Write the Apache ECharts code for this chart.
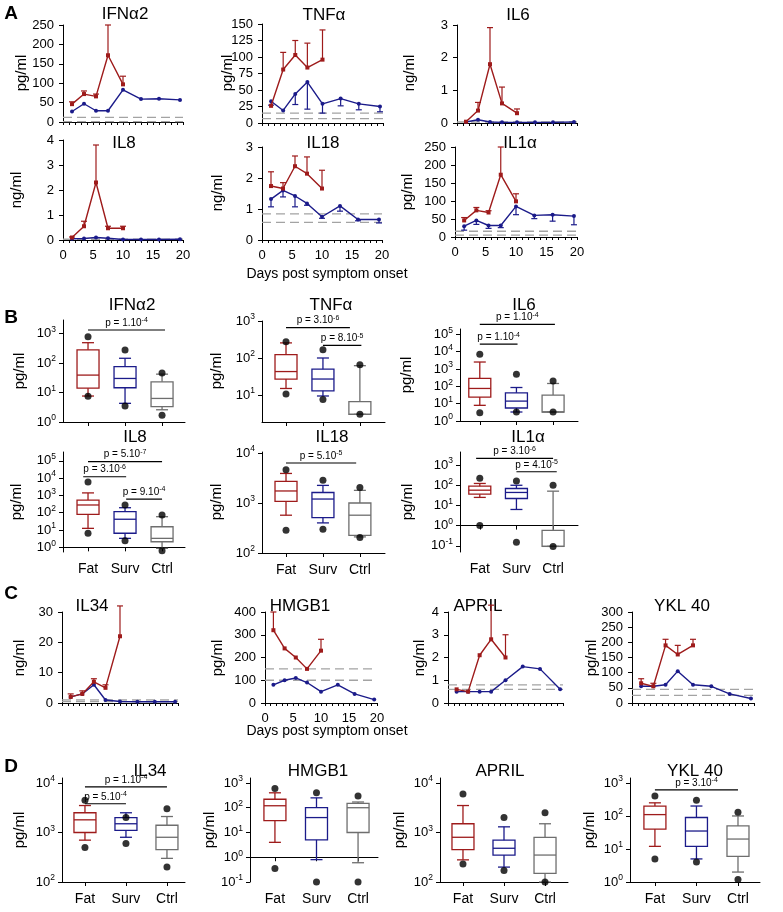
<!DOCTYPE html>
<html><head><meta charset="utf-8">
<script src="https://cdn.jsdelivr.net/npm/echarts@6/dist/echarts.min.js"></script>
<style>html,body{margin:0;padding:0;background:#fff}#c{width:783px;height:912px}</style>
</head><body><div id="c"></div><script>
const FONT='"Liberation Sans", Arial, sans-serif';
const FAT='#9e1b1b', SURV='#1b1b8a', CTRL='#6e6e6e';

// ---------- time-course data (panels A, C) ----------
const daysFat=[1.5,3.5,5.5,7.5,10];
const daysSurv=[1.5,3.5,5.5,7.5,10,13,16,19.5];
const xTickLabels=[0,5,10,15,20];

const aIFNa2Fat=[46,72,66,172,97], aIFNa2FatErr=[52,80,72,250,118];
const aIFNa2Surv=[27,47,29,29,83,59,60,57], aIFNa2Ref=[12,1];
const aTNFaFat=[26,81,103,84,96], aTNFaFatErr=[null,107,125,121,141];
const aTNFaSurv=[33,19,44,62,29,37,29,25], aTNFaSurvErr=[27,null,28,21,15,26,20,17], aTNFaRef=[15,6.5];
const aIL6Fat=[0.04,0.38,1.8,0.6,0.3], aIL6FatErr=[null,0.63,2.92,1.1,0.43];
const aIL6Surv=[0.03,0.1,0.03,0.02,0.02,0.02,0.02,0.03], aIL6Ref=[0.03];
const aIL8Fat=[0.1,0.55,2.3,0.47,0.47], aIL8FatErr=[0.12,0.75,3.8,0.55,0.55];
const aIL8Surv=[0.05,0.06,0.1,0.07,0.02,0.02,0.02,0.03], aIL8Ref=[0.03];
const aIL18Fat=[1.74,1.66,2.38,2.14,1.66], aIL18FatErr=[2.2,1.85,2.71,2.68,2.25];
const aIL18Surv=[1.32,1.6,1.42,1.18,0.75,1.10,0.66,0.66], aIL18SurvErr=[1.07,1.39,1.07,1.12,0.70,0.93,0.62,0.55], aIL18Ref=[0.84,0.57];
const aIL1aFat=[46,74,68,173,99], aIL1aFatErr=[54,82,73,250,120];
const aIL1aSurv=[30,46,32,32,85,60,62,58], aIL1aSurvErr=[19,35,24,26,62,51,44,34], aIL1aRef=[16,5];

const cIL34Fat=[2,3,7,5,22], cIL34FatErr=[3,4,8,6,32];
const cIL34Surv=[2,3,6,1,0.5,0.4,0.4,0.4], cIL34Ref=[1,0.5];
const cHMGB1Fat=[320,240,200,150,230], cHMGB1FatErr=[400,null,null,null,280];
const cHMGB1Surv=[80,100,110,90,50,80,40,15], cHMGB1Ref=[150,100];
const cAPRILFat=[0.6,0.5,2.1,2.8,2.0], cAPRILFatErr=[null,null,null,4.3,3.0];
const cAPRILSurv=[0.5,0.5,0.5,0.5,1.0,1.6,1.5,0.6], cAPRILRef=[0.8,0.6];
const cYKLFat=[65,55,190,160,190], cYKLFatErr=[80,65,210,190,210];
const cYKLSurv=[55,55,60,105,60,55,30,15], cYKLRef=[45,25];

// ---------- box-plot data (panels B, D): [min, Q1, median, Q3, max] for Fat, Surv, Ctrl ----------
const groups=['Fat','Surv','Ctrl'];
const bIFNa2Box=[[7.6,14,39,280,490],[4.3,14.5,30,75,145],[2.6,3.3,6.3,23,42]];
const bIFNa2Out=[[780,7.5],[275,3.5],[46,1.7]];
const bTNFaBox=[[15,27,43,123,256],[9.4,13,27,50,100],[3.0,3.0,3.0,6.6,62]];
const bTNFaOut=[[275,10.7],[168,7.6],[66,3.0]];
const bIL6Box=[[8,24,75,282,2500],[3.3,5.6,14,42,85],[3.3,3.3,3.3,31,145]];
const bIL6Out=[[7000,3.0],[500,3.3],[200,3.3]];
const bIL8Box=[[12.5,81,280,540,1400],[3.3,6.5,42,115,195],[0.87,2.1,3.3,15.5,59]];
const bIL8Out=[[6000,6.5],[280,2.4],[74,0.63]];
const bIL18Box=[[570,1080,1740,2700,3900],[400,510,1200,1620,2250],[210,225,570,1000,1790]];
const bIL18Out=[[4650,285],[2850,300],[2040,205]];
const bIL1aBox=[[25,36,57,90,123],[6.3,22,44,69,100],[0.093,0.093,0.093,0.58,51]];
const bIL1aOut=[[220,1.0],[165,0.15],[100,0.093]];

const dIL34Box=[[700,1000,1800,2500,3500],[800,1100,1500,2000,2500],[300,450,800,1400,2100]];
const dIL34Out=[[500,4500],[600,2000],[200,3000]];
const dHMGB1Box=[[4,30,120,220,400],[0.8,5,40,100,250],[0.6,10,100,150,170]];
const dHMGB1Out=[[0.35,600],[0.1,400],[0.1,300]];
const dAPRILBox=[[280,450,800,1500,3500],[200,350,480,700,1300],[100,150,350,800,1500]];
const dAPRILOut=[[230,6000],[170,2000],[100,2500]];
const dYKLBox=[[12,40,110,200,250],[5,12,35,90,200],[2,6,20,50,100]];
const dYKLOut=[[5,400],[4,300],[1.2,130]];

// significance brackets: [fromGroup, toGroup, log10 height, text, exponent]
const bIFNa2P=[[1,3.08,3.12,'p = 1.10','-4']];
const bTNFaP=[[1,2.73,2.82,'p = 3.10','-6'],[2,3.04,2.34,'p = 8.10','-5']];
const bIL6P=[[1,3.05,5.57,'p = 1.10','-4'],[1,2.03,4.43,'p = 1.10','-4']];
const bIL8P=[[1,3,4.95,'p = 5.10','-7'],[0.87,2.03,4.08,'p = 3.10','-6'],[2.03,3,2.79,'p = 9.10','-4']];
const bIL18P=[[1,2.9,3.8,'p = 5.10','-5']];
const bIL1aP=[[0.9,3,3.33,'p = 3.10','-6'],[2,3.1,2.67,'p = 4.10','-5']];
const dIL34P=[[1,3,3.92,'p = 1.10','-4'],[1,2,3.58,'p = 5.10','-4']];
const dYKLP=[[1,3,2.79,'p = 3.10','-4']];

// ---------- builders ----------
const grids=[], xAxes=[], yAxes=[], series=[], graphics=[];
const axisLine={show:true,lineStyle:{color:'#000',width:1}};
const tickOut={show:true,inside:false,length:4,lineStyle:{color:'#000',width:1}};
const lbl={color:'#000',fontFamily:FONT,fontSize:13,margin:9};

function addGrid(l,t,w,h){grids.push({left:l,top:t,width:w,height:h,containLabel:false});return grids.length-1;}

function errSeries(ai,days,vals,errs,color){
  if(!errs) return;
  const data=[];
  days.forEach((d,i)=>{if(errs[i]!=null) data.push([d,vals[i],errs[i]]);});
  series.push({type:'custom',xAxisIndex:ai,yAxisIndex:ai,data,encode:{x:0,y:[1,2]},silent:true,z:4,
    renderItem:(p,api)=>{
      const a=api.coord([api.value(0),api.value(1)]), b=api.coord([api.value(0),api.value(2)]);
      return {type:'group',children:[
        {type:'line',shape:{x1:a[0],y1:a[1],x2:b[0],y2:b[1]},style:{stroke:color,lineWidth:1.2}},
        {type:'line',shape:{x1:b[0]-3,y1:b[1],x2:b[0]+3,y2:b[1]},style:{stroke:color,lineWidth:1.2}}]};
    }});
}

function linePanel(o){
  const g=addGrid(o.left,o.top,o.width,o.height);
  xAxes.push({gridIndex:g,type:'value',min:0,max:20,interval:5,axisLine,
    axisTick:{...tickOut,length:3},minorTick:{show:true,splitNumber:5,length:3,lineStyle:{color:'#000'}},
    splitLine:{show:false},minorSplitLine:{show:false},
    axisLabel:{...lbl,show:!!o.xLabels,customValues:xTickLabels}});
  yAxes.push({gridIndex:g,type:'value',min:0,max:o.ymax,interval:o.yint,axisLine,axisTick:tickOut,
    splitLine:{show:false},axisLabel:lbl});
  const ai=xAxes.length-1;
  o.ref.forEach(v=>series.push({type:'line',xAxisIndex:ai,yAxisIndex:ai,data:[[0,v],[20,v]],symbol:'none',silent:true,z:1,
    lineStyle:{color:'#a3a3a3',width:1.3,type:[9,5]}}));
  series.push({type:'line',xAxisIndex:ai,yAxisIndex:ai,data:daysSurv.map((d,i)=>[d,o.surv[i]]),symbol:'circle',symbolSize:4,
    itemStyle:{color:SURV},lineStyle:{color:SURV,width:1.4},z:3,silent:true});
  errSeries(ai,daysSurv,o.surv,o.survErr,SURV);
  series.push({type:'line',xAxisIndex:ai,yAxisIndex:ai,data:daysFat.map((d,i)=>[d,o.fat[i]]),symbol:'rect',symbolSize:4,
    itemStyle:{color:FAT},lineStyle:{color:FAT,width:1.4},z:5,silent:true});
  errSeries(ai,daysFat,o.fat,o.fatErr,FAT);
}

const L=Math.log10;
function boxPanel(o){
  const g=addGrid(o.left,o.top,o.width,o.height);
  xAxes.push({gridIndex:g,type:'value',min:o.xmin,max:o.xmax,axisLine,
    axisTick:{...tickOut,customValues:[1,2,3]},splitLine:{show:false},
    axisLabel:{...lbl,fontSize:14,margin:10,show:!!o.xLabels,customValues:[1,2,3],formatter:v=>groups[Math.round(v)-1]}});
  yAxes.push({gridIndex:g,type:'value',min:o.ymin,max:o.ymax,axisLine,
    axisTick:{...tickOut,customValues:o.ticks},splitLine:{show:false},
    axisLabel:{...lbl,margin:7,customValues:o.ticks,formatter:v=>'{b|10}{s|'+Math.round(v)+'}',
      rich:{b:{fontSize:13,fontFamily:FONT,color:'#000'},s:{fontSize:8.5,fontFamily:FONT,color:'#000',padding:[0,0,8,0]}}}});
  const ai=xAxes.length-1;
  const colors=[FAT,SURV,CTRL];
  series.push({type:'custom',xAxisIndex:ai,yAxisIndex:ai,silent:true,z:3,
    data:o.box.map((b,i)=>[i+1,L(b[0]),L(b[1]),L(b[2]),L(b[3]),L(b[4])]),
    encode:{x:0,y:[1,2,3,4,5]},
    renderItem:(p,api)=>{
      const x=api.value(0), c=colors[p.dataIndex];
      const px=api.coord([x,api.value(3)])[0];
      const y=k=>api.coord([x,api.value(k)])[1];
      const s={stroke:c,lineWidth:1.3,fill:null};
      const hw=o.hw||11, cw=6;
      return {type:'group',children:[
        {type:'line',shape:{x1:px,y1:y(1),x2:px,y2:y(2)},style:s},
        {type:'line',shape:{x1:px,y1:y(4),x2:px,y2:y(5)},style:s},
        {type:'line',shape:{x1:px-cw,y1:y(1),x2:px+cw,y2:y(1)},style:s},
        {type:'line',shape:{x1:px-cw,y1:y(5),x2:px+cw,y2:y(5)},style:s},
        {type:'rect',shape:{x:px-hw,y:y(4),width:2*hw,height:Math.max(y(2)-y(4),0.5)},style:{stroke:c,lineWidth:1.3,fill:'rgba(255,255,255,0)'}},
        {type:'line',shape:{x1:px-hw,y1:y(3),x2:px+hw,y2:y(3)},style:s}]};
    }});
  const outs=[];
  o.out.forEach((arr,i)=>arr.forEach(v=>outs.push([i+1,L(v)])));
  series.push({type:'scatter',xAxisIndex:ai,yAxisIndex:ai,data:outs,symbol:'circle',symbolSize:7,
    itemStyle:{color:'#000'},z:6,silent:true});
  if(o.p){
    const P=o.p;
    series.push({type:'custom',xAxisIndex:ai,yAxisIndex:ai,silent:true,z:6,
      data:P.map(q=>[q[0],q[1],q[2]]),encode:{x:[0,1],y:2},
      renderItem:(p,api)=>{
        const a=api.coord([api.value(0),api.value(2)]), b=api.coord([api.value(1),api.value(2)]);
        const q=P[p.dataIndex];
        return {type:'group',children:[
          {type:'line',shape:{x1:a[0],y1:a[1],x2:b[0],y2:b[1]},style:{stroke:'#000',lineWidth:1.2}},
          {type:'text',x:(a[0]+b[0])/2,y:a[1]-1,style:{text:'{a|'+q[3]+'}{s|'+q[4]+'}',align:'center',verticalAlign:'bottom',
            rich:{a:{fontSize:10,fontFamily:FONT,fill:'#000'},s:{fontSize:7,fontFamily:FONT,fill:'#000',padding:[0,0,5,0]}}}}]};
      }});
  }
}

function text(t,x,y,size,opt={}){
  graphics.push({type:'text',x,y,rotation:opt.rot||0,silent:true,
    style:{text:t,fontSize:size,fontFamily:FONT,fontWeight:opt.bold?'bold':'normal',fill:'#000',align:'center',verticalAlign:'middle'}});
}

// ---------- panel A ----------
linePanel({left:63,top:25,width:120,height:97,ymax:250,yint:50,fat:aIFNa2Fat,fatErr:aIFNa2FatErr,surv:aIFNa2Surv,ref:aIFNa2Ref});
linePanel({left:262,top:24,width:121,height:99,ymax:150,yint:25,fat:aTNFaFat,fatErr:aTNFaFatErr,surv:aTNFaSurv,survErr:aTNFaSurvErr,ref:aTNFaRef});
linePanel({left:457,top:25,width:120,height:98,ymax:3,yint:1,fat:aIL6Fat,fatErr:aIL6FatErr,surv:aIL6Surv,ref:aIL6Ref});
linePanel({left:63,top:140,width:120,height:100,ymax:4,yint:1,xLabels:1,fat:aIL8Fat,fatErr:aIL8FatErr,surv:aIL8Surv,ref:aIL8Ref});
linePanel({left:262,top:147,width:120,height:93,ymax:3,yint:1,xLabels:1,fat:aIL18Fat,fatErr:aIL18FatErr,surv:aIL18Surv,survErr:aIL18SurvErr,ref:aIL18Ref});
linePanel({left:455,top:147,width:122,height:90,ymax:250,yint:50,xLabels:1,fat:aIL1aFat,fatErr:aIL1aFatErr,surv:aIL1aSurv,survErr:aIL1aSurvErr,ref:aIL1aRef});

// ---------- panel B ----------
boxPanel({left:63,top:320,width:122,height:102,ymin:0,ymax:3.46,ticks:[0,1,2,3],xmin:0.324,xmax:3.62,box:bIFNa2Box,out:bIFNa2Out,p:bIFNa2P});
boxPanel({left:262,top:321,width:123,height:101,ymin:0.27,ymax:3.0,ticks:[1,2,3],xmin:0.35,xmax:3.68,box:bTNFaBox,out:bTNFaOut,p:bTNFaP});
boxPanel({left:460,top:329,width:118,height:92,ymin:0,ymax:5.3,ticks:[0,1,2,3,4,5],xmin:0.46,xmax:3.68,box:bIL6Box,out:bIL6Out,p:bIL6P});
boxPanel({left:63,top:452,width:122,height:100,ymin:-0.27,ymax:5.51,ticks:[0,1,2,3,4,5],xmin:0.324,xmax:3.62,xLabels:1,box:bIL8Box,out:bIL8Out,p:bIL8P});
boxPanel({left:262,top:452,width:123,height:101,ymin:2,ymax:4.02,ticks:[2,3,4],xmin:0.35,xmax:3.68,xLabels:1,box:bIL18Box,out:bIL18Out,p:bIL18P});
boxPanel({left:460,top:452,width:118,height:100,ymin:-1.31,ymax:3.65,ticks:[-1,0,1,2,3],xmin:0.46,xmax:3.68,xLabels:1,box:bIL1aBox,out:bIL1aOut,p:bIL1aP});

// ---------- panel C ----------
linePanel({left:62,top:612,width:116,height:91,ymax:30,yint:10,fat:cIL34Fat,fatErr:cIL34FatErr,surv:cIL34Surv,ref:cIL34Ref});
linePanel({left:265,top:612,width:112,height:91,ymax:400,yint:100,xLabels:1,fat:cHMGB1Fat,fatErr:cHMGB1FatErr,surv:cHMGB1Surv,ref:cHMGB1Ref});
linePanel({left:448,top:612,width:115,height:91,ymax:4,yint:1,fat:cAPRILFat,fatErr:cAPRILFatErr,surv:cAPRILSurv,ref:cAPRILRef});
linePanel({left:632,top:612,width:122,height:91,ymax:300,yint:50,fat:cYKLFat,fatErr:cYKLFatErr,surv:cYKLSurv,ref:cYKLRef});

// ---------- panel D ----------
boxPanel({left:62,top:778,width:123,height:104,ymin:2,ymax:4.1,ticks:[2,3,4],xmin:0.44,xmax:3.44,xLabels:1,box:dIL34Box,out:dIL34Out,p:dIL34P});
boxPanel({left:250,top:778,width:128,height:104,ymin:-1,ymax:3.2,ticks:[-1,0,1,2,3],xmin:0.4,xmax:3.48,xLabels:1,box:dHMGB1Box,out:dHMGB1Out});
boxPanel({left:440,top:778,width:128,height:104,ymin:2,ymax:4.1,ticks:[2,3,4],xmin:0.44,xmax:3.56,xLabels:1,box:dAPRILBox,out:dAPRILOut});
boxPanel({left:630,top:778,width:130,height:104,ymin:0,ymax:3.15,ticks:[0,1,2,3],xmin:0.4,xmax:3.53,xLabels:1,box:dYKLBox,out:dYKLOut,p:dYKLP});

// ---------- text ----------
text('A',11,14,19,{bold:1}); text('B',11,318,19,{bold:1}); text('C',11,594,19,{bold:1}); text('D',11,767,19,{bold:1});
[['IFNα2',125,14],['TNFα',324,15],['IL6',518,15],['IL8',124,143],['IL18',323,143],['IL1α',520,143],
 ['IFNα2',132,305],['TNFα',331,305],['IL6',524,305],['IL8',135,437],['IL18',332,437],['IL1α',528,437],
 ['IL34',92,606],['HMGB1',300,606],['APRIL',478,606],['YKL 40',682,606],
 ['IL34',150,771],['HMGB1',318,771],['APRIL',500,771],['YKL 40',695,771]].forEach(t=>text(t[0],t[1],t[2],17));
[['pg/ml',22,73],['pg/ml',228,73],['ng/ml',410,73],['ng/ml',17,190],['ng/ml',218,193],['pg/ml',408,192],
 ['pg/ml',20,371],['pg/ml',217,371],['pg/ml',407,375],['pg/ml',17,502],['pg/ml',217,502],['pg/ml',408,502],
 ['ng/ml',20,658],['pg/ml',218,658],['ng/ml',420,658],['pg/ml',592,658],
 ['pg/ml',20,830],['pg/ml',210,830],['pg/ml',400,830],['pg/ml',590,830]].forEach(t=>text(t[0],t[1],t[2],15,{rot:Math.PI/2}));
text('Days post symptom onset',327,274,14);
text('Days post symptom onset',327,731,14);

const chart=echarts.init(document.getElementById('c'),null,{renderer:'canvas'});
chart.setOption({animation:false,backgroundColor:'#fff',grid:grids,xAxis:xAxes,yAxis:yAxes,series,graphic:graphics});
</script></body></html>
